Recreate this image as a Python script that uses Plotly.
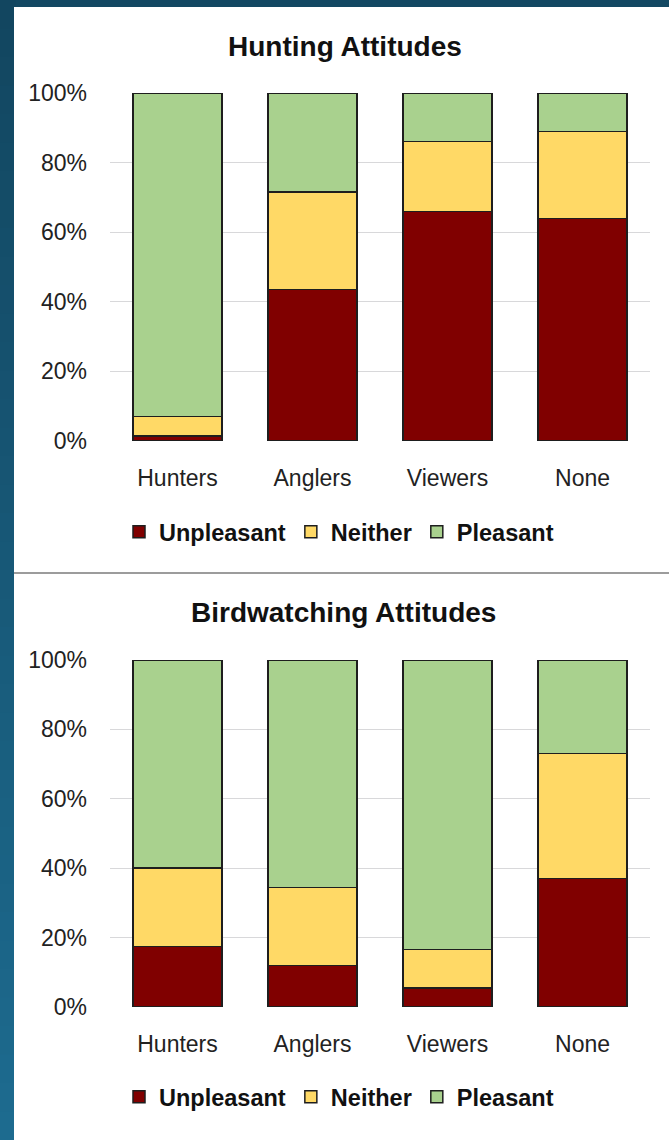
import plotly.graph_objects as go

# Respondent groups and attitude categories
categories = ["Hunters", "Anglers", "Viewers", "None"]
series_names = ["Unpleasant", "Neither", "Pleasant"]

# Hunting attitudes (% of respondents)
hunting_unpleasant = [1.5, 43.5, 66.0, 64.0]
hunting_neither = [5.5, 28.0, 20.0, 25.0]
hunting_pleasant = [93.0, 28.5, 14.0, 11.0]

# Birdwatching attitudes (% of respondents)
birding_unpleasant = [17.5, 12.0, 5.5, 37.0]
birding_neither = [22.5, 22.5, 11.0, 36.0]
birding_pleasant = [60.0, 65.5, 83.5, 27.0]

y_ticks = [0, 20, 40, 60, 80, 100]
y_tick_labels = ["0%", "20%", "40%", "60%", "80%", "100%"]

chart_titles = ["Hunting Attitudes", "Birdwatching Attitudes"]

colors = {"Unpleasant": "#800000", "Neither": "#ffd966", "Pleasant": "#a9d18e"}

W, H = 669, 1140
TICK_FONT = dict(family="Liberation Sans, Arial, sans-serif", size=23, color="#222222")
BOLD_FONT = "Liberation Sans, Arial, sans-serif"


def fx(px):
    return px / W


def fy(py):
    return 1 - py / H


fig = go.Figure()

panels = [
    ("x", "y", "legend", [hunting_unpleasant, hunting_neither, hunting_pleasant]),
    ("x2", "y2", "legend2", [birding_unpleasant, birding_neither, birding_pleasant]),
]
for xa, ya, lg, values in panels:
    for name, vals in zip(series_names, values):
        fig.add_trace(go.Bar(
            x=categories, y=vals, name=name, xaxis=xa, yaxis=ya, legend=lg,
            marker=dict(color=colors[name], line=dict(color="#1e1e1e", width=1.5)),
            hoverinfo="x+y+name",
        ))

axis_x = dict(
    domain=[fx(110), fx(650)], showgrid=False, zeroline=False, showline=False,
    ticks="", tickfont=TICK_FONT, ticklabelstandoff=21, fixedrange=True,
    automargin=False,
)
axis_y = dict(
    range=[0, 100], tickvals=y_ticks, ticktext=y_tick_labels, showgrid=True,
    gridcolor="#d8d8da", gridwidth=1, zeroline=False, showline=False, ticks="",
    tickfont=TICK_FONT, ticklabelstandoff=22, fixedrange=True, automargin=False,
)

legend_common = dict(
    orientation="h", xanchor="left", yanchor="middle", bgcolor="rgba(0,0,0,0)",
    font=dict(family=BOLD_FONT, size=23.5, color="#111111", weight="bold"),
    itemwidth=30, traceorder="normal", itemclick=False, itemdoubleclick=False,
)

# Blue backdrop, with a gradient down the left strip (bands overlap to avoid seams)
shapes = []
top_c = (0x12, 0x46, 0x60)
bot_c = (0x1d, 0x6b, 0x8f)
bands = 40
for i in range(bands):
    t = i / (bands - 1)
    c = tuple(round(a + (b - a) * t) for a, b in zip(top_c, bot_c))
    shapes.append(dict(
        type="rect", xref="paper", yref="paper", layer="below",
        x0=0, x1=fx(16),
        y0=max(0.0, fy(H * (i + 1) / bands + 3)), y1=fy(H * i / bands),
        fillcolor="rgb(%d,%d,%d)" % c, line=dict(width=0),
    ))
shapes.append(dict(
    type="rect", xref="paper", yref="paper", layer="below",
    x0=fx(14), x1=1, y0=0, y1=fy(7), fillcolor="#ffffff", line=dict(width=0),
))
# Divider between the two panels
shapes.append(dict(
    type="line", xref="paper", yref="paper", layer="above",
    x0=fx(14), x1=1, y0=fy(573), y1=fy(573),
    line=dict(color="#9c9c9c", width=2),
))

annotations = [
    dict(text=chart_titles[0], x=fx(345), y=fy(46), xref="paper", yref="paper",
         showarrow=False, xanchor="center", yanchor="middle",
         font=dict(family=BOLD_FONT, size=28, color="#111111", weight="bold")),
    dict(text=chart_titles[1], x=fx(343), y=fy(612), xref="paper", yref="paper",
         showarrow=False, xanchor="center", yanchor="middle",
         font=dict(family=BOLD_FONT, size=28, color="#111111", weight="bold")),
]

fig.update_layout(
    width=W, height=H, margin=dict(l=0, r=0, t=0, b=0, autoexpand=False),
    paper_bgcolor="#134862", plot_bgcolor="#e6e5e7",
    barmode="stack", bargap=0.34, showlegend=True,
    xaxis=dict(axis_x, anchor="y"),
    yaxis=dict(axis_y, domain=[fy(441), fy(93)], anchor="x"),
    xaxis2=dict(axis_x, anchor="y2"),
    yaxis2=dict(axis_y, domain=[fy(1007), fy(660)], anchor="x2"),
    legend=dict(legend_common, x=fx(119), y=fy(532)),
    legend2=dict(legend_common, x=fx(119), y=fy(1097)),
    shapes=shapes, annotations=annotations,
)

fig.write_html("out.html")
